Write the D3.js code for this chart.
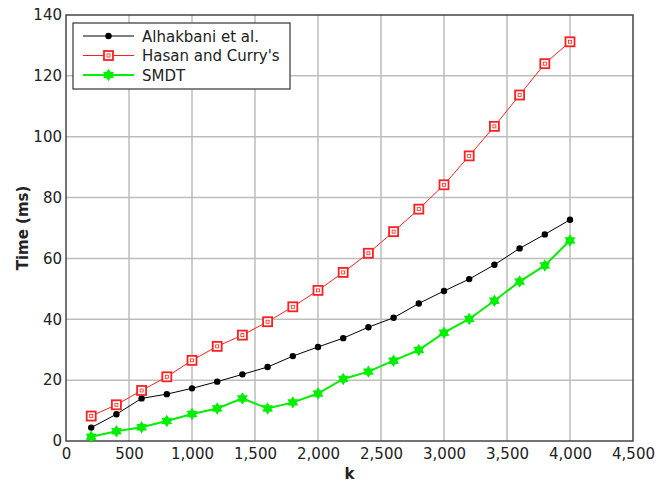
<!DOCTYPE html>
<html>
<head>
<meta charset="utf-8">
<script src="https://cdn.jsdelivr.net/npm/d3@7"></script>
<style>
  body { margin: 0; background: #fff; }
  svg text { font-family: "DejaVu Sans", sans-serif; fill: #222; }
</style>
</head>
<body>
<svg width="672" height="485"></svg>
<script>
// k values and measured times (ms)
const kValues = [200, 400, 600, 800, 1000, 1200, 1400, 1600, 1800, 2000,
  2200, 2400, 2600, 2800, 3000, 3200, 3400, 3600, 3800, 4000];
const alhakbani = [4.4, 8.8, 14.0, 15.4, 17.3, 19.5, 21.9, 24.3, 27.9, 30.9,
  33.8, 37.4, 40.5, 45.2, 49.3, 53.2, 57.9, 63.3, 67.9, 72.7];
const hasanCurry = [8.2, 11.9, 16.6, 21.1, 26.5, 31.1, 34.8, 39.2, 44.1, 49.5,
  55.4, 61.7, 68.8, 76.2, 84.2, 93.7, 103.4, 113.7, 124.0, 131.2];
const smdt = [1.4, 3.2, 4.5, 6.6, 8.9, 10.7, 14.0, 10.7, 12.7, 15.6,
  20.4, 22.8, 26.4, 29.9, 35.6, 40.1, 46.1, 52.4, 57.7, 65.9];
const xTicks = [0, 500, 1000, 1500, 2000, 2500, 3000, 3500, 4000, 4500];
const yTicks = [0, 20, 40, 60, 80, 100, 120, 140];

const svg = d3.select('svg');
const margin = {top: 15, right: 39, bottom: 44, left: 66};
const width = +svg.attr('width');
const height = +svg.attr('height');
const innerWidth = width - margin.left - margin.right;
const innerHeight = height - margin.top - margin.bottom;

const xScale = d3.scaleLinear().domain([0, 4500]).range([0, innerWidth]);
const yScale = d3.scaleLinear().domain([0, 140]).range([innerHeight, 0]);

const g = svg.append('g')
  .attr('transform', `translate(${margin.left},${margin.top})`);

// grid
g.append('g').selectAll('line').data(xTicks.slice(1, -1)).join('line')
  .attr('x1', d => xScale(d)).attr('x2', d => xScale(d))
  .attr('y1', 0).attr('y2', innerHeight)
  .attr('stroke', '#bdbdbd').attr('stroke-width', 1.5);
g.append('g').selectAll('line').data(yTicks.slice(1, -1)).join('line')
  .attr('y1', d => yScale(d)).attr('y2', d => yScale(d))
  .attr('x1', 0).attr('x2', innerWidth)
  .attr('stroke', '#bdbdbd').attr('stroke-width', 1.5);

// axes (labels only)
const xAxis = d3.axisBottom(xScale).tickValues(xTicks).tickSize(0).tickPadding(7)
  .tickFormat(d3.format(','));
const yAxis = d3.axisLeft(yScale).tickValues(yTicks).tickSize(0).tickPadding(4);
g.append('g').attr('transform', `translate(0,${innerHeight})`).call(xAxis)
  .call(a => a.select('.domain').remove())
  .selectAll('text').attr('font-size', 15).attr('fill', '#222');
g.append('g').call(yAxis)
  .call(a => a.select('.domain').remove())
  .selectAll('text').attr('font-size', 15).attr('fill', '#222');

// frame
g.append('rect').attr('width', innerWidth).attr('height', innerHeight)
  .attr('fill', 'none').attr('stroke', '#444').attr('stroke-width', 1.5);

// axis titles
svg.append('text').attr('x', margin.left + innerWidth / 2).attr('y', 479)
  .attr('text-anchor', 'middle').attr('font-size', 15).attr('font-weight', 'bold')
  .text('k');
svg.append('text')
  .attr('transform', `translate(28,${margin.top + innerHeight / 2}) rotate(-90)`)
  .attr('text-anchor', 'middle').attr('font-size', 15).attr('font-weight', 'bold')
  .text('Time (ms)');

// six-pointed star symbol
const star6 = {
  draw(ctx, size) {
    const r = Math.sqrt(size / 2.2);
    const ri = r * 0.6;
    for (let i = 0; i < 12; i++) {
      const a = -Math.PI / 2 + i * Math.PI / 6;
      const rr = i % 2 ? ri : r;
      if (i === 0) ctx.moveTo(rr * Math.cos(a), rr * Math.sin(a));
      else ctx.lineTo(rr * Math.cos(a), rr * Math.sin(a));
    }
    ctx.closePath();
  }
};

const series = [
  {name: 'Alhakbani et al.', values: alhakbani, color: '#000', width: 1, marker: 'circle'},
  {name: "Hasan and Curry's", values: hasanCurry, color: '#ff2020', width: 1, marker: 'square'},
  {name: 'SMDT', values: smdt, color: '#00ee00', width: 2, marker: 'star'}
];

const line = d3.line().x(d => xScale(d[0])).y(d => yScale(d[1]));

function drawMarker(sel, s) {
  if (s.marker === 'circle') {
    sel.append('circle').attr('r', 3.2).attr('fill', s.color);
  } else if (s.marker === 'square') {
    sel.append('rect').attr('x', -4.5).attr('y', -4.5).attr('width', 9).attr('height', 9)
      .attr('fill', '#fff').attr('stroke', s.color).attr('stroke-width', 1.8);
    sel.append('rect').attr('x', -1.5).attr('y', -1.5).attr('width', 3).attr('height', 3)
      .attr('fill', 'none').attr('stroke', s.color).attr('stroke-width', 0.8);
  } else {
    sel.append('path').attr('d', d3.symbol().type(star6).size(85)()).attr('fill', s.color);
  }
}

series.forEach(s => {
  const pts = kValues.map((k, i) => [k, s.values[i]]);
  g.append('path').datum(pts).attr('d', line)
    .attr('fill', 'none').attr('stroke', s.color).attr('stroke-width', s.width);
  pts.forEach(p => {
    const m = g.append('g').attr('transform', `translate(${xScale(p[0])},${yScale(p[1])})`);
    drawMarker(m, s);
  });
});

// legend
const legend = svg.append('g').attr('transform', 'translate(73,23)');
legend.append('rect').attr('width', 217).attr('height', 66)
  .attr('fill', '#fff').attr('stroke', '#333').attr('stroke-width', 1.2);
series.forEach((s, i) => {
  const y = 13 + i * 19.5;
  legend.append('line').attr('x1', 10).attr('x2', 61).attr('y1', y).attr('y2', y)
    .attr('stroke', s.color).attr('stroke-width', s.width);
  drawMarker(legend.append('g').attr('transform', `translate(35.5,${y})`), s);
  legend.append('text').attr('x', 69).attr('y', y + 5.5).attr('font-size', 15).text(s.name);
});
</script>
</body>
</html>
